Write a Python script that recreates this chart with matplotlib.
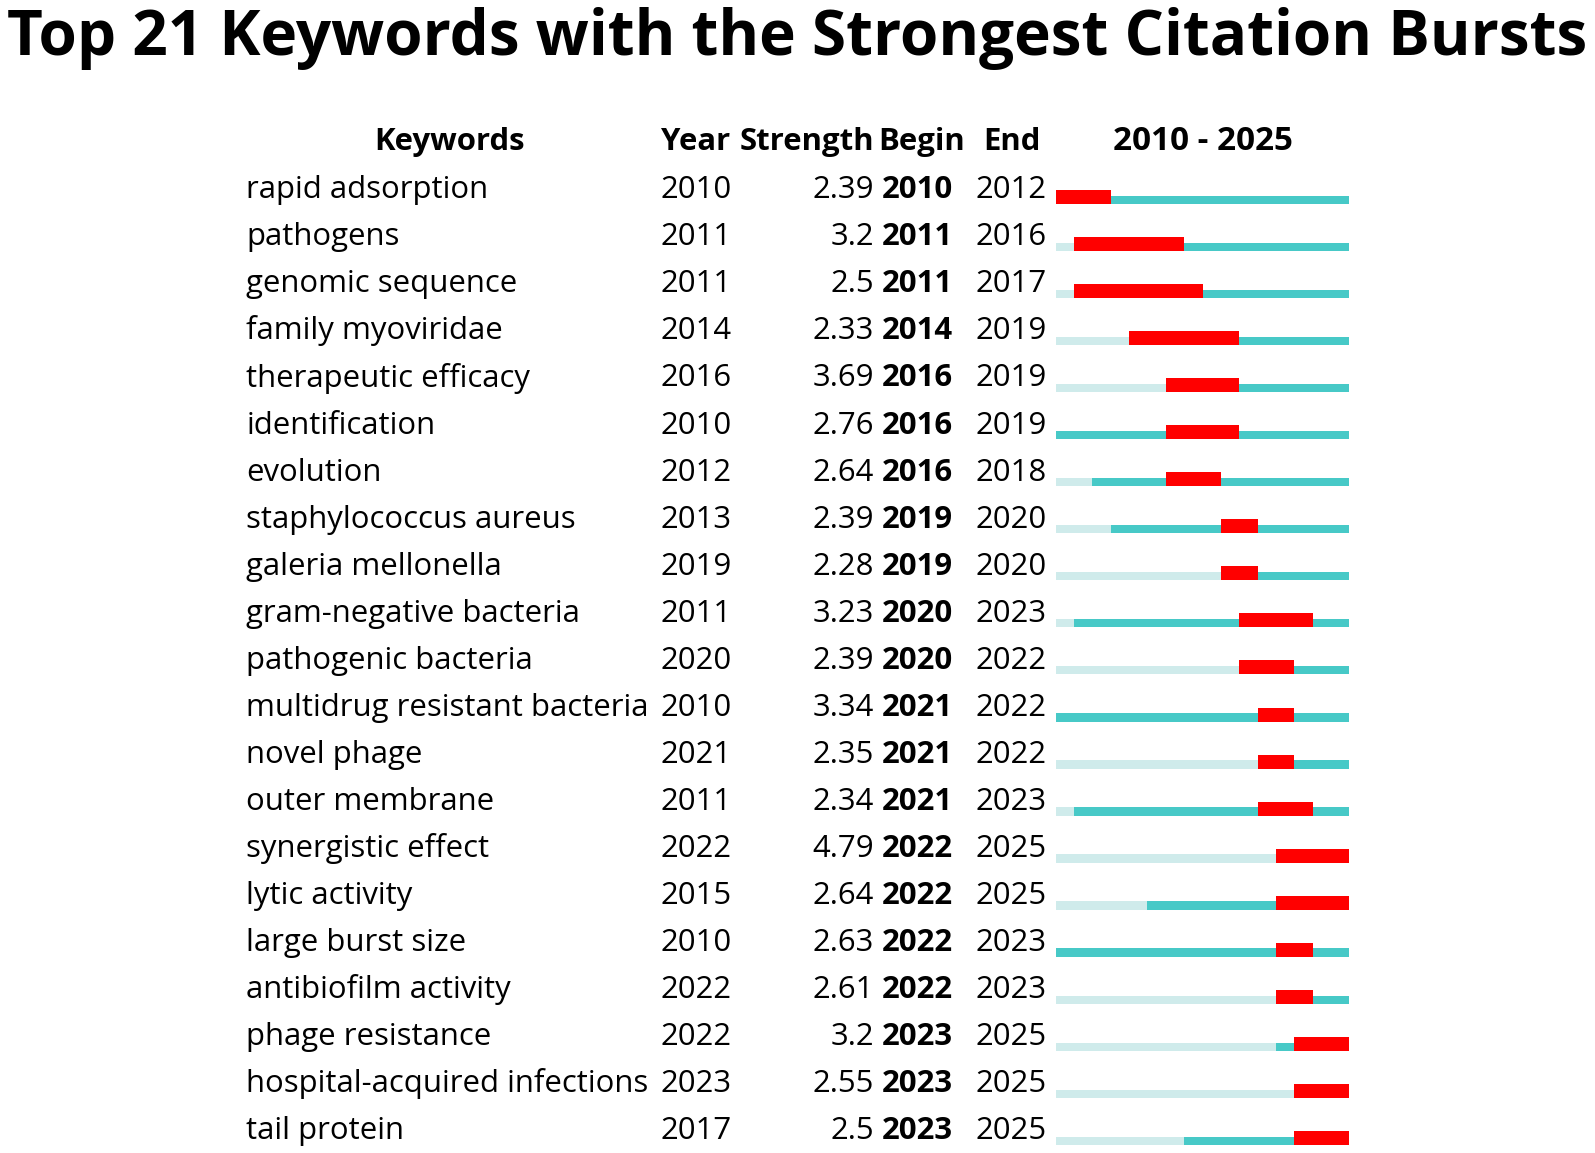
import matplotlib.pyplot as plt
from matplotlib.transforms import blended_transform_factory

# burst table data
keywords = ["rapid adsorption", "pathogens", "genomic sequence", "family myoviridae",
            "therapeutic efficacy", "identification", "evolution", "staphylococcus aureus",
            "galeria mellonella", "gram-negative bacteria", "pathogenic bacteria",
            "multidrug resistant bacteria", "novel phage", "outer membrane",
            "synergistic effect", "lytic activity", "large burst size",
            "antibiofilm activity", "phage resistance", "hospital-acquired infections",
            "tail protein"]
first_year = [2010, 2011, 2011, 2014, 2016, 2010, 2012, 2013, 2019, 2011, 2020,
              2010, 2021, 2011, 2022, 2015, 2010, 2022, 2022, 2023, 2017]
strength = ["2.39", "3.2", "2.5", "2.33", "3.69", "2.76", "2.64", "2.39", "2.28", "3.23",
            "2.39", "3.34", "2.35", "2.34", "4.79", "2.64", "2.63", "2.61", "3.2", "2.55", "2.5"]
begin = [2010, 2011, 2011, 2014, 2016, 2016, 2016, 2019, 2019, 2020, 2020,
         2021, 2021, 2021, 2022, 2022, 2022, 2022, 2023, 2023, 2023]
end = [2012, 2016, 2017, 2019, 2019, 2019, 2018, 2020, 2020, 2023, 2022,
       2022, 2022, 2023, 2025, 2025, 2023, 2023, 2025, 2025, 2025]
span_start, span_end = 2010, 2025

TEAL = "#47C9C7"
LIGHT = "#CFEBEB"
RED = "#FF0000"
FONT = "Open Sans"

W, H = 1595, 1153
fig = plt.figure(figsize=(W / 100, H / 100), dpi=100)
renderer = fig.canvas.get_renderer()


def fit(text, target_px, **kws):
    """Font size that makes text target_px wide."""
    t = fig.text(0, 0, text, fontsize=20, **kws)
    w = t.get_window_extent(renderer).width
    t.remove()
    return 20 * target_px / w


# bar area: x in years, y in rows (row i bottom edge at y=i)
row_px, first_px = 47.05, 204.0
top_px = first_px - 0.9 * row_px
bot_px = first_px + 20.05 * row_px
ax = fig.add_axes([1055.7 / W, 1 - bot_px / H, 293.6 / W, (bot_px - top_px) / H])
ax.set_xlim(span_start, span_end + 1)
ax.set_ylim(20.05, -0.9)
ax.axis("off")

h_red, h_line = 0.298, 0.177
for i in range(len(keywords)):
    ax.barh(i - h_line, first_year[i] - span_start, left=span_start, height=h_line,
            align="edge", color=LIGHT, lw=0)
    ax.barh(i - h_line, span_end + 1 - first_year[i], left=first_year[i], height=h_line,
            align="edge", color=TEAL, lw=0)
    ax.barh(i - h_red, end[i] + 1 - begin[i], left=begin[i], height=h_red,
            align="edge", color=RED, lw=0)

# table text
fs = fit("multidrug resistant bacteria", 402, family=FONT)
tr = blended_transform_factory(fig.transFigure, ax.transData)
base = -5.7 / row_px
head = (150 - first_px) / row_px

hd = dict(transform=tr, fontsize=fs, family=FONT, fontweight="bold", va="baseline")
fig.text(450 / W, head, "Keywords", ha="center", **hd)
fig.text(661 / W, head, "Year", ha="left", **hd)
fig.text(740 / W, head, "Strength", ha="left", **hd)
fig.text(878 / W, head, "Begin", ha="left", **hd)
fig.text(983 / W, head, "End", ha="left", **hd)
span_label = f"{span_start} - {span_end}"
hd["fontsize"] = fit(span_label, 180, family=FONT, fontweight="bold")
fig.text(1202.5 / W, head, span_label, ha="center", **hd)

tx = dict(transform=tr, fontsize=fs, family=FONT, va="baseline")
for i, kw in enumerate(keywords):
    y = i + base
    fig.text(246.5 / W, y, kw, ha="left", **tx)
    fig.text(661 / W, y, str(first_year[i]), ha="left", **tx)
    fig.text(874 / W, y, strength[i], ha="right", **tx)
    fig.text(882 / W, y, str(begin[i]), ha="left", fontweight="bold", **tx)
    fig.text(976 / W, y, str(end[i]), ha="left", **tx)

title = "Top 21 Keywords with the Strongest Citation Bursts"
tfs = fit(title, 1580, family=FONT, fontweight="bold")
fig.text(797 / W, 1 - 55 / H, title, ha="center", va="baseline", fontsize=tfs,
         family=FONT, fontweight="bold")

fig.savefig("out.png", dpi=100)
